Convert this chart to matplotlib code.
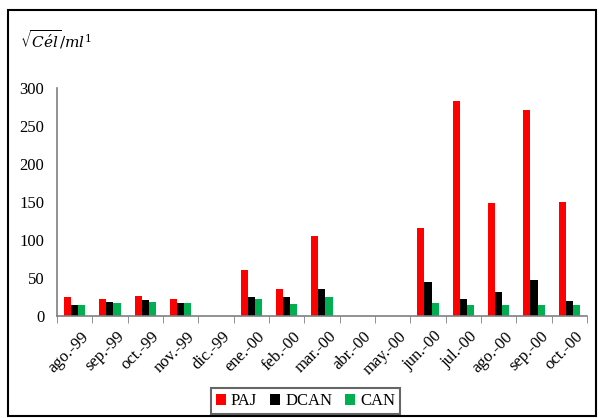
import numpy as np
import matplotlib.pyplot as plt
import matplotlib.transforms as mtransforms
from matplotlib.patches import Rectangle

# months on the x axis
meses = ["ago.-99", "sep.-99", "oct.-99", "nov.-99", "dic.-99", "ene.-00", "feb.-00",
         "mar.-00", "abr.-00", "may.-00", "jun.-00", "jul.-00", "ago.-00", "sep.-00", "oct.-00"]

# sqrt(cells/ml) per station
paj = [25, 23, 27, 22, 0, 60, 36, 105, 0, 0, 116, 283, 149, 271, 150]
dcan = [14, 18, 21, 17, 0, 25, 25, 36, 0, 0, 45, 23, 32, 48, 20]
can = [14, 17, 18, 17, 0, 22, 16, 25, 0, 0, 17, 15, 15, 15, 14]

plt.rcParams['font.family'] = ['Liberation Serif', 'DejaVu Serif']

fig = plt.figure(figsize=(5.99, 4.18), dpi=100)
ax = fig.add_axes([0.095, 0.244, 0.885, 0.545])

x = np.arange(len(meses))
w = 0.2
ax.bar(x - w, paj, w, color='#ff0000', label='PAJ')
ax.bar(x, dcan, w, color='#000000', label='DCAN')
ax.bar(x + w, can, w, color='#00b050', label='CAN')

ax.set_xlim(-0.5, len(meses) - 0.5)
ax.set_ylim(0, 300)
ax.set_yticks([0, 50, 100, 150, 200, 250, 300])
ax.tick_params(axis='y', length=0, labelsize=12, pad=9)

ax.set_xticks(x)
ax.set_xticklabels(meses, rotation=45, ha='right', rotation_mode='anchor', fontsize=12)
ax.tick_params(axis='x', which='major', length=0, pad=9)
# shift rotated labels a bit to the right, like the original
shift = mtransforms.ScaledTranslation(6 / 100, 0, fig.dpi_scale_trans)
for lbl in ax.get_xticklabels():
    lbl.set_transform(lbl.get_transform() + shift)
ax.set_xticks(np.arange(-0.5, len(meses)), minor=True)
ax.tick_params(axis='x', which='minor', length=5, color='#7f7f7f')

for s in ['top', 'right']:
    ax.spines[s].set_visible(False)
for s in ['left', 'bottom']:
    ax.spines[s].set_color('#7f7f7f')
    ax.spines[s].set_linewidth(1.2)

fig.text(0.033, 0.905, r'$\sqrt{C\acute{e}l}/ml^{1}$', fontsize=11,
         ha='left', va='center', math_fontfamily='dejavuserif')

leg = fig.legend(loc='center', bbox_to_anchor=(0.510, 0.04), ncol=3,
                 fontsize=12, frameon=True, fancybox=False, handlelength=0.6,
                 handleheight=0.6, handletextpad=0.3, columnspacing=0.8,
                 borderpad=0.3, edgecolor='#404040')
leg.get_frame().set_linewidth(1.5)

fig.patches.append(Rectangle((0.013, 0.005), 0.982, 0.97, transform=fig.transFigure,
                             fill=False, edgecolor='black', linewidth=1.5))

fig.savefig('out.png', dpi=100)
